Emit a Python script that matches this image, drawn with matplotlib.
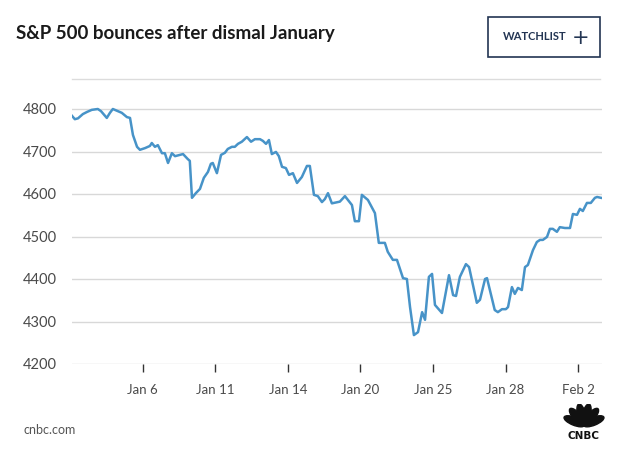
from __future__ import annotations

import matplotlib

matplotlib.use("Agg")
import matplotlib.pyplot as plt
from matplotlib.patches import Ellipse, Rectangle
from matplotlib.lines import Line2D
import numpy as np

# trading-day position (0 = Jan 3 open) and S&P 500 level
session = [
    0.08, 0.20, 0.33, 0.53, 0.70, 0.90, 1.15, 1.28, 1.52, 1.65, 1.77, 1.98,
    2.14, 2.35, 2.48, 2.60, 2.77, 2.89, 3.10, 3.30, 3.38, 3.51, 3.63, 3.80,
    3.92, 4.05, 4.21, 4.34, 4.54, 4.67, 4.87, 4.95, 5.04, 5.20, 5.37, 5.53,
    5.70, 5.82, 5.90, 6.07, 6.24, 6.40, 6.52, 6.69, 6.81, 6.94, 7.10, 7.31,
    7.48, 7.64, 7.85, 7.97, 8.10, 8.22, 8.34, 8.51, 8.63, 8.76, 8.92, 9.05,
    9.21, 9.38, 9.58, 9.79, 9.91, 10.08, 10.24, 10.41, 10.53, 10.66, 10.82,
    11.15, 11.36, 11.65, 11.77, 11.94, 12.06, 12.31, 12.60, 12.76, 13.01,
    13.13, 13.34, 13.51, 13.76, 13.92, 14.05, 14.21, 14.38, 14.55, 14.67,
    14.83, 14.96, 15.08, 15.37, 15.66, 15.83, 15.95, 16.11, 16.36, 16.49,
    16.81, 16.94, 17.15, 17.23, 17.55, 17.68, 17.85, 18.01, 18.10, 18.26,
    18.38, 18.51, 18.67, 18.80, 18.92, 19.13, 19.29, 19.42, 19.54, 19.71,
    19.83, 19.95, 20.12, 20.24, 20.45, 20.66, 20.78, 20.95, 21.07, 21.19,
    21.36, 21.52, 21.69, 21.78, 21.94,
]
level = [
    4784, 4776, 4778, 4788, 4793, 4798, 4800, 4795, 4779, 4791, 4800, 4795,
    4791, 4781, 4779, 4739, 4711, 4704, 4708, 4713, 4720, 4711, 4715, 4696,
    4696, 4673, 4696, 4689, 4692, 4694, 4682, 4678, 4591, 4602, 4612, 4638,
    4652, 4671, 4673, 4649, 4692, 4697, 4706, 4711, 4711, 4718, 4723, 4734,
    4723, 4729, 4729, 4725, 4718, 4727, 4694, 4699, 4689, 4664, 4661, 4645,
    4649, 4626, 4640, 4666, 4666, 4598, 4595, 4581, 4588, 4602, 4578,
    4582, 4595, 4574, 4536, 4536, 4598, 4586, 4555, 4485, 4485,
    4464, 4445, 4445, 4402, 4400, 4334, 4268, 4275, 4322, 4304,
    4405, 4412, 4339, 4320, 4409, 4362, 4360, 4405, 4435, 4428,
    4344, 4351, 4400, 4402, 4327, 4322, 4329, 4329, 4334, 4381,
    4365, 4379, 4374, 4428, 4433, 4468, 4487, 4492, 4492, 4499,
    4518, 4518, 4511, 4522, 4520, 4520, 4553, 4551, 4565, 4560,
    4579, 4579, 4591, 4593, 4591,
]
tick_pos = [3, 6, 9, 12, 15, 18, 21]
tick_labels = ["Jan 6", "Jan 11", "Jan 14", "Jan 20", "Jan 25", "Jan 28", "Feb 2"]
y_ticks = [4200, 4300, 4400, 4500, 4600, 4700, 4800]

FONT = ["Lato", "DejaVu Sans"]
LINE = "#4793c8"
NAVY = "#233553"


def main() -> None:
    plt.rcParams["font.family"] = FONT
    fig = plt.figure(figsize=(6.3, 4.65), dpi=100)
    W, H = 630, 465

    ax = fig.add_axes([71.7 / W, 1 - 364 / H, 530 / W, 264 / H])
    ax.plot(session, level, color=LINE, lw=1.8, solid_joinstyle="round")
    ax.set_xlim(0.07, 21.97)
    ax.set_ylim(4200, 4800 + 9 / 0.425)
    ax.set_yticks(y_ticks)
    ax.set_yticklabels([str(v) for v in y_ticks])
    ax.set_xticks(tick_pos)
    ax.set_xticklabels(tick_labels)
    ax.grid(axis="y", color="#d8d8d8", lw=1)
    ax.set_axisbelow(True)
    for s in ax.spines.values():
        s.set_visible(False)
    ax.tick_params(axis="y", length=0, pad=10.5, labelsize=10.5, labelcolor="#4a4a4a")
    ax.tick_params(axis="x", length=5.5, width=1, color="#333333", pad=9,
                   labelsize=9.5, labelcolor="#4a4a4a")

    # header
    fig.text(16 / W, 1 - 33 / H, "S&P 500 bounces after dismal January",
             fontsize=13.5, fontweight="bold", color="#1a1a1a", va="center")
    fig.add_artist(Rectangle((487.5 / W, 1 - 57 / H), 112 / W, 40 / H,
                             transform=fig.transFigure, fill=False,
                             edgecolor=NAVY, lw=1.2))
    fig.text(503 / W, 1 - 37 / H, "WATCHLIST", fontsize=8, fontweight="bold",
             color=NAVY, va="center")
    fig.text(581 / W, 1 - 37.5 / H, "+", fontsize=15, color=NAVY,
             va="center", ha="center", family="DejaVu Sans")
    fig.add_artist(Line2D([72 / W, 600 / W], [1 - 79 / H, 1 - 79 / H],
                          transform=fig.transFigure, color="#dcdcdc", lw=1))

    # footer
    fig.text(23 / W, 1 - 430 / H, "cnbc.com", fontsize=9, color="#555555",
             va="center")

    logo = fig.add_axes([560 / W, 1 - 440 / H, 48 / W, 36 / H])
    logo.set_xlim(-1.2, 1.2)
    logo.set_ylim(-0.75, 1.05)
    logo.axis("off")
    for ang in np.linspace(-68, 68, 6):
        a = np.deg2rad(ang)
        logo.add_patch(Ellipse((0.52 * np.sin(a), -0.02 + 0.55 * np.cos(a)),
                               0.4, 1.1, angle=-ang, color="#111111"))
    logo.text(0, -0.55, "CNBC", ha="center", va="center", fontsize=7.5,
              fontweight="heavy", family="DejaVu Sans", color="#111111")

    fig.savefig("out.png", dpi=100, facecolor="white")


if __name__ == "__main__":
    main()
